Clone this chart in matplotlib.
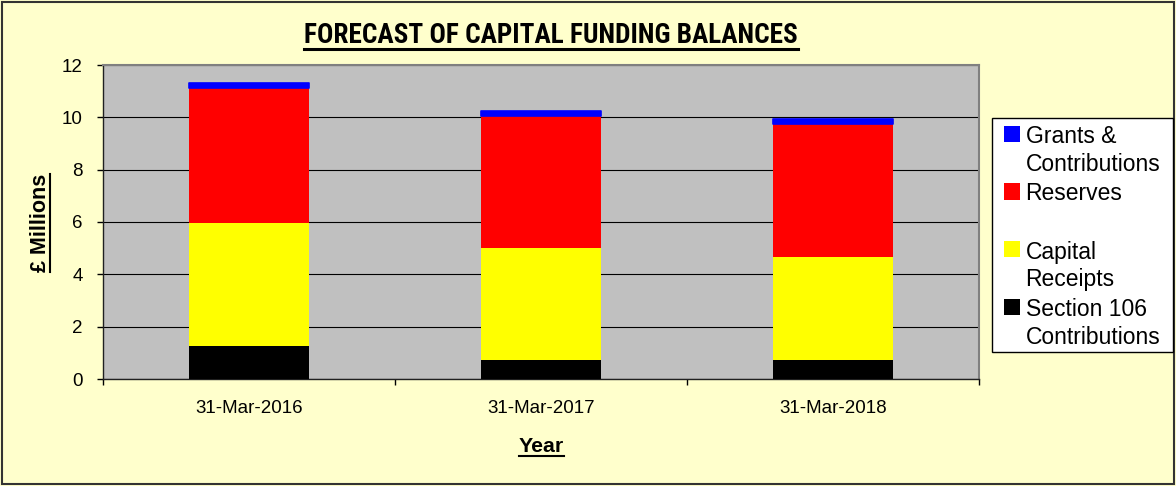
import matplotlib
matplotlib.use("Agg")
import matplotlib.pyplot as plt
from matplotlib.patches import Rectangle
from matplotlib.lines import Line2D
import numpy as np

# values in £ millions
years = ["31-Mar-2016", "31-Mar-2017", "31-Mar-2018"]
section_106 = [1.26, 0.73, 0.73]
capital_receipts = [4.71, 4.26, 3.94]
reserves = [5.14, 5.07, 5.07]
grants = [0.20, 0.18, 0.20]

series_names = ["Section 106\nContributions", "Capital\nReceipts", "Reserves", "Grants &\nContributions"]
series_colors = ["#000000", "#FFFF00", "#FF0000", "#0000FF"]

W, H = 1176, 486
BG = "#FFFFCC"
plt.rcParams["font.family"] = ["Liberation Sans", "DejaVu Sans"]
NARROW = ["Liberation Sans Narrow", "Arial Narrow", "Roboto Condensed", "Archivo Narrow",
          "Liberation Sans"]


def px(x, y):
    # pixel position (from top-left) -> figure fraction
    return x / W, 1 - y / H


fig = plt.figure(figsize=(W / 100, H / 100), dpi=100, facecolor=BG)
fig.add_artist(Rectangle(px(2, 484), (W - 4) / W, (H - 4) / H, transform=fig.transFigure,
                         facecolor="none", edgecolor="#333333", linewidth=1.5))

x0, y0 = px(103, 379)
x1, y1 = px(979, 65)
ax = fig.add_axes([x0, y0, x1 - x0, y1 - y0])
ax.set_facecolor("#C0C0C0")

x = np.arange(len(years))
width = 0.41
stack = [section_106, capital_receipts, reserves, grants]
bottom = np.zeros(len(years))
for i, vals in enumerate(stack):
    vals = np.array(vals)
    if i == 3:
        ax.bar(x, vals, width, bottom=bottom, color=series_colors[i], edgecolor=series_colors[i],
               linewidth=1.2, joinstyle="round", zorder=3)
    else:
        ax.bar(x, vals, width, bottom=bottom, color=series_colors[i], linewidth=0, zorder=3)
    bottom += vals

ax.set_xlim(-0.5, len(years) - 0.5)
ax.set_ylim(0, 12)
ax.set_yticks(range(0, 13, 2))
ax.set_xticks(x)
ax.set_xticklabels(years)
ax.set_xticks(np.arange(-0.5, len(years)), minor=True)
ax.tick_params(axis="x", which="major", length=0, pad=15, labelsize=13.5)
ax.tick_params(axis="x", which="minor", length=4, width=1, direction="out")
ax.tick_params(axis="y", length=4.5, width=1, direction="out", pad=10, labelsize=13.5)
ax.yaxis.grid(True, color="black", linewidth=0.8)
ax.set_axisbelow(True)
for side in ["top", "right"]:
    ax.spines[side].set_color("#808080")
    ax.spines[side].set_linewidth(1.5)
for side in ["left", "bottom"]:
    ax.spines[side].set_color("#202020")
    ax.spines[side].set_linewidth(1)

title = fig.text(*px(551, 43.3), "FORECAST OF CAPITAL FUNDING BALANCES", ha="center", va="baseline",
                 fontsize=19.6, fontweight="bold", family=NARROW)
ylab = fig.text(*px(46.5, 223), "£ Millions", rotation=90, rotation_mode="anchor",
                ha="center", va="baseline", fontsize=15.5, fontweight="bold")
xlab = fig.text(*px(541.5, 451.7), "Year", ha="center", va="baseline", fontsize=15.3, fontweight="bold")

# legend drawn by hand so the swatch sits on the first line of each label
lx0, ly0 = px(992, 352)
lx1, ly1 = px(1173, 118)
fig.add_artist(Rectangle((lx0, ly0), lx1 - lx0, ly1 - ly0, transform=fig.transFigure,
                         facecolor="white", edgecolor="black", linewidth=1))
line_h = 28.8
for i, k in enumerate([3, 2, 1, 0]):
    base = 142.3 + 2 * line_h * i
    sx, sy = px(1004, base)
    fig.add_artist(Rectangle((sx, sy), 16.5 / W, 16.5 / H, transform=fig.transFigure,
                             facecolor=series_colors[k], edgecolor="none"))
    n_lines = series_names[k].count("\n")
    # multi-line text with va="baseline" is anchored on its last line
    fig.text(*px(1025.5, base + line_h * n_lines), series_names[k], ha="left", va="baseline",
             fontsize=16.5, linespacing=1.26)

# underlines for title and axis labels
fig.canvas.draw()
r = fig.canvas.get_renderer()
bb = title.get_window_extent(r)
fig.add_artist(Line2D([bb.x0 / W, bb.x1 / W], [px(0, 49.3)[1]] * 2, transform=fig.transFigure,
                      color="black", linewidth=2.2))
bb = xlab.get_window_extent(r)
fig.add_artist(Line2D([bb.x0 / W, bb.x1 / W], [px(0, 455.5)[1]] * 2, transform=fig.transFigure,
                      color="black", linewidth=1.5))
bb = ylab.get_window_extent(r)
fig.add_artist(Line2D([50 / W, 50 / W], [bb.y0 / H, bb.y1 / H], transform=fig.transFigure,
                      color="black", linewidth=1.5))

fig.savefig("out.png", dpi=100, facecolor=BG)
